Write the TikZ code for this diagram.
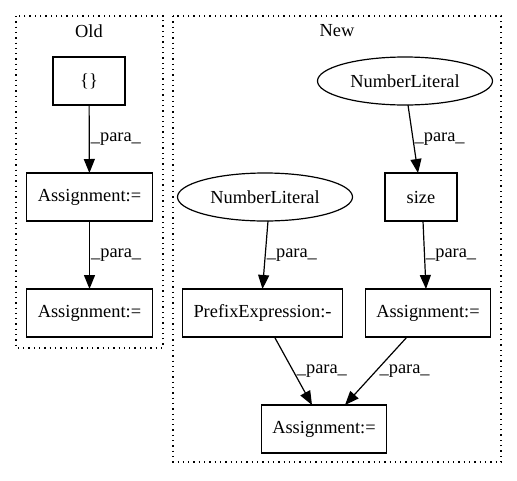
\documentclass[tikz,border=0pt]{standalone}
\usepackage{fontspec}
\setmainfont{Liberation Serif}
\usetikzlibrary{arrows.meta,shapes.geometric}

\begin{document}
\begin{tikzpicture}[x=1pt, y=-1pt, font=\fontsize{18.4}{20}\selectfont,
  box/.style={draw, line width=1.2pt, rectangle, minimum height=48pt, minimum width=72pt, inner xsep=11pt, outer sep=0pt},
  lit/.style={draw, line width=1.2pt, ellipse, minimum height=48pt, minimum width=175pt, inner xsep=0pt, outer sep=0pt},
  cluster/.style={line width=1.3pt, dash pattern=on 1.3pt off 4pt},
  para/.style={line width=1.2pt, -{Triangle[length=14pt,width=11pt]}}]
\useasboundingbox (0,0) rectangle (517,480);

\draw[cluster] (16,16) rectangle (163,348);
\draw[cluster] (173,16) rectangle (501,462);
\node (oldlabel) at (89,31) {Old};
\node (newlabel) at (337,31) {New};

\node[box] (braces) at (89,81) {\{\}};
\node[box] (oldassignA) at (89.5,197) {Assignment:=};
\node[box] (oldassignB) at (89.5,313) {Assignment:=};

\node[lit] (numlitA) at (405,81) {NumberLiteral};
\node[lit] (numlitB) at (265,197) {NumberLiteral};
\node[box] (size) at (421,197) {size};
\node[box] (prefix) at (262.5,313) {PrefixExpression:-};
\node[box] (newassignA) at (428,313) {Assignment:=};
\node[box] (newassignB) at (324,429) {Assignment:=};

\draw[para] (braces) -- node[right, inner sep=1pt] {\_para\_} (oldassignA);
\draw[para] (oldassignA) -- node[right, inner sep=1pt] {\_para\_} (oldassignB);
\draw[para] (numlitA.south) ++(3,0) -- node[right, inner sep=1pt] {\_para\_} ([xshift=-3pt]size.north);
\draw[para] (numlitB.south) ++(3,0) -- node[right, inner sep=1pt] {\_para\_} (prefix.north);
\draw[para] (size.south) ++(2,0) -- node[right, inner sep=1pt] {\_para\_} ([xshift=-2pt]newassignA.north);
\draw[para] ([xshift=12pt]prefix.south) -- node[right, inner sep=3pt] {\_para\_} ([xshift=-12pt]newassignB.north);
\draw[para] ([xshift=-21pt]newassignA.south) -- node[right, inner sep=3pt] {\_para\_} ([xshift=21pt]newassignB.north);
\end{tikzpicture}
\end{document}
